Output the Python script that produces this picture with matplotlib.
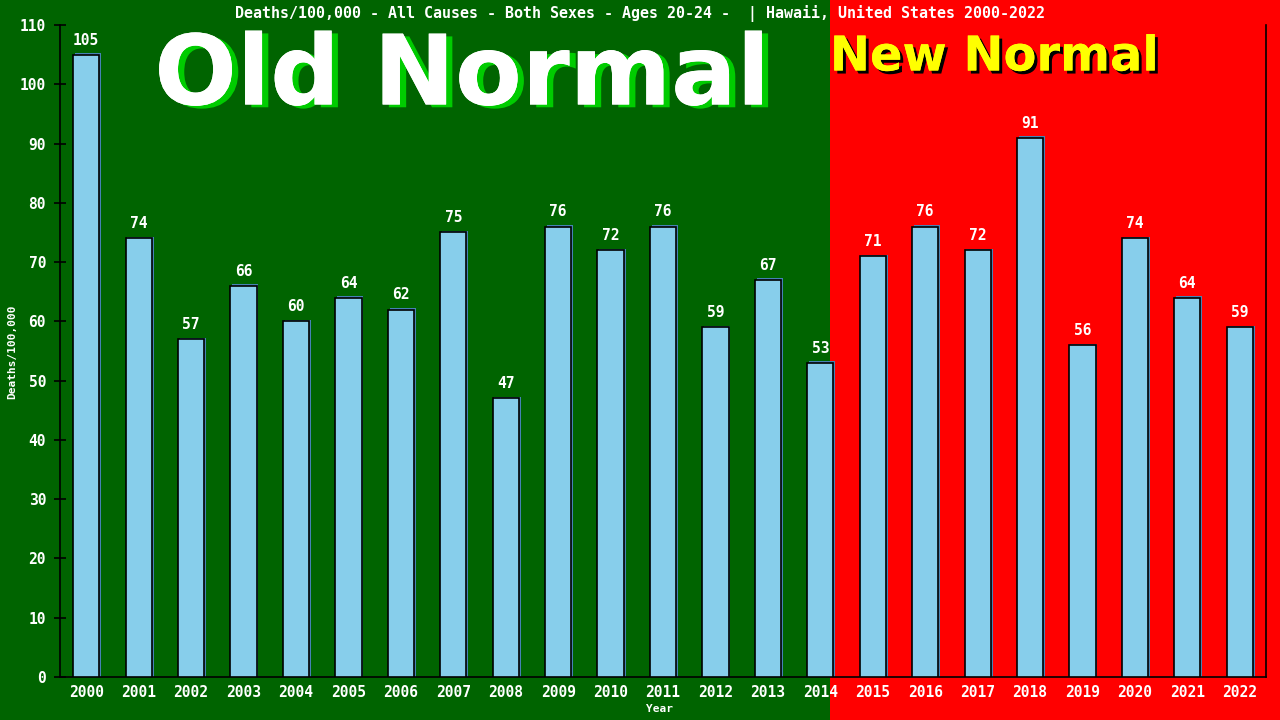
import matplotlib
matplotlib.use("Agg")
import matplotlib.pyplot as plt
from matplotlib.patches import Rectangle
import matplotlib.patheffects as pe

years = [str(y) for y in range(2000, 2023)]
deaths = [105, 74, 57, 66, 60, 64, 62, 75, 47, 76, 72, 76, 59, 67, 53,
          71, 76, 72, 91, 56, 74, 64, 59]
title = "Deaths/100,000 - All Causes - Both Sexes - Ages 20-24 -  | Hawaii, United States 2000-2022"

mono = "DejaVu Sans Mono"

fig = plt.figure(figsize=(12.8, 7.2), dpi=100)
split = 830 / 1280
fig.patches.append(Rectangle((0, 0), split, 1, transform=fig.transFigure,
                             facecolor="#006400", edgecolor="none", zorder=-10))
fig.patches.append(Rectangle((split, 0), 1 - split, 1, transform=fig.transFigure,
                             facecolor="#ff0000", edgecolor="none", zorder=-10))

ax = fig.add_axes([60 / 1280, 43 / 720, 1206 / 1280, 652 / 720])
ax.patch.set_visible(False)

x = list(range(len(years)))
# shadow bars
ax.bar([i + 0.035 for i in x], [d + 0.25 for d in deaths], width=0.5,
       color="#4682b4", edgecolor="none", zorder=2)
ax.bar(x, deaths, width=0.5, color="#87ceeb", edgecolor="black",
       linewidth=1.2, zorder=3)

for i, d in zip(x, deaths):
    ax.text(i, d + 1.2, str(d), ha="center", va="bottom", color="white",
            fontsize=10.5, family=mono, weight="bold", zorder=4)

ax.set_xlim(-0.5, len(years) - 0.5)
ax.set_ylim(0, 110)
ax.set_yticks(range(0, 111, 10))
ax.set_xticks(x)
ax.set_xticklabels(years)
ax.tick_params(axis="y", direction="inout", length=8, width=1.2, color="black",
               labelcolor="white", labelsize=10.5, pad=6)
ax.tick_params(axis="x", length=0, labelcolor="white", labelsize=10.5, pad=6)
for lab in ax.get_xticklabels() + ax.get_yticklabels():
    lab.set_family(mono)
    lab.set_weight("bold")

for s in ["left", "bottom", "right"]:
    ax.spines[s].set_color("black")
    ax.spines[s].set_linewidth(1.2)
ax.spines["top"].set_visible(False)

fig.text(640 / 1280, 1 - 13 / 720, title, ha="center", va="center",
         color="white", fontsize=10.8, family=mono, weight="bold")
fig.text(12 / 1280, 1 - 352 / 720, "Deaths/100,000", rotation=90, ha="center",
         va="center", color="white", fontsize=8, family=mono, weight="bold")
fig.text(660 / 1280, 1 - 709 / 720, "Year", ha="center", va="center",
         color="white", fontsize=8, family=mono, weight="bold")

fig.text(462 / 1280, 1 - 78 / 720, "Old Normal", ha="center", va="center",
         color="white", fontsize=70, weight="bold", family="DejaVu Sans",
         path_effects=[pe.withSimplePatchShadow(offset=(4.5, -2), shadow_rgbFace="#00cc00", alpha=1),
                       pe.Normal()])
fig.text(994 / 1280, 1 - 57 / 720, "New Normal", ha="center", va="center",
         color="#ffff00", fontsize=34.5, weight="bold", family="DejaVu Sans",
         path_effects=[pe.withSimplePatchShadow(offset=(2.2, -2.2), shadow_rgbFace="black", alpha=1),
                       pe.Normal()])

fig.savefig("out.png", dpi=100)
